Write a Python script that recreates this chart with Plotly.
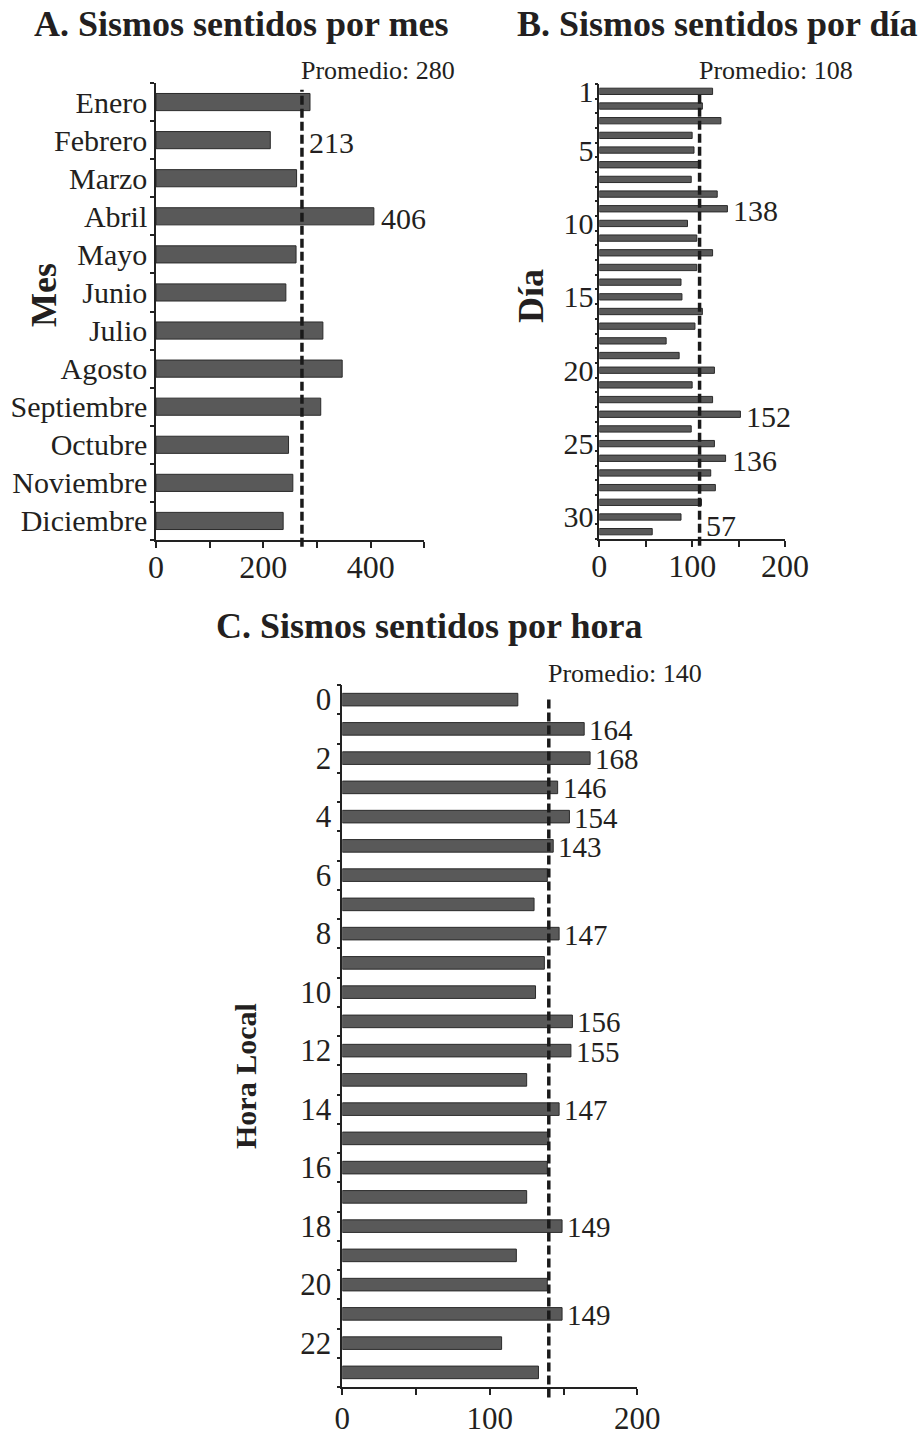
import plotly.graph_objects as go

# ---------------- data ----------------
meses = ["Enero", "Febrero", "Marzo", "Abril", "Mayo", "Junio", "Julio",
         "Agosto", "Septiembre", "Octubre", "Noviembre", "Diciembre"]
sismos_mes = [287, 213, 262, 406, 261, 242, 311, 347, 307, 247, 255, 237]
promedio_mes = 280
linea_mes = 272
etiquetas_mes = {"Febrero": "213", "Abril": "406"}

dias = list(range(1, 32))
sismos_dia = [122, 111, 131, 100, 102, 109, 99, 127, 138, 95, 105, 122, 105,
              88, 89, 111, 103, 72, 86, 124, 100, 122, 152, 99, 124, 136,
              120, 125, 110, 88, 57]
promedio_dia = 108
etiquetas_dia = {9: "138", 23: "152", 26: "136", 31: "57"}
dia_ticks = [1, 5, 10, 15, 20, 25, 30]

horas = list(range(24))
sismos_hora = [119, 164, 168, 146, 154, 143, 139, 130, 147, 137, 131, 156,
               155, 125, 147, 140, 139, 125, 149, 118, 139, 149, 108, 133]
promedio_hora = 140
etiquetas_hora = {1: "164", 2: "168", 3: "146", 4: "154", 5: "143", 8: "147",
                  11: "156", 12: "155", 14: "147", 18: "149", 21: "149"}
hora_ticks = list(range(0, 24, 2))

# ---------------- style ----------------
W, H = 924, 1438
FONT = "Liberation Serif"
TXT = "#231f20"
BAR = "#595959"
EDGE = "#2b2b2b"


def px_x(p):
    return p / W


def px_y(p):
    return 1 - p / H


fig = go.Figure()

fig.add_trace(go.Bar(x=sismos_mes, y=list(range(len(meses))), orientation="h",
                     width=0.45, marker=dict(color=BAR, line=dict(color=EDGE, width=1)),
                     xaxis="x", yaxis="y", showlegend=False, hoverinfo="skip"))
fig.add_trace(go.Bar(x=sismos_dia, y=dias, orientation="h",
                     width=0.43, marker=dict(color=BAR, line=dict(color=EDGE, width=1)),
                     xaxis="x2", yaxis="y2", showlegend=False, hoverinfo="skip"))
fig.add_trace(go.Bar(x=sismos_hora, y=horas, orientation="h",
                     width=0.43, marker=dict(color=BAR, line=dict(color=EDGE, width=1)),
                     xaxis="x3", yaxis="y3", showlegend=False, hoverinfo="skip"))

axis_common = dict(showline=True, linecolor="#222", linewidth=1.5, showgrid=False,
                   zeroline=False, tickcolor="#222", automargin=False)

minor_x = lambda d: dict(dtick=d, ticks="outside", ticklen=6, tickwidth=1.5, tickcolor="#222")
minor_y = lambda l: dict(tickmode="linear", tick0=0.5, dtick=1, ticks="outside",
                         ticklen=l, tickwidth=1.5, tickcolor="#222")

fig.update_layout(
    width=W, height=H, autosize=False, margin=dict(l=0, r=0, t=0, b=0, pad=0),
    paper_bgcolor="white", plot_bgcolor="white",
    font=dict(family=FONT, color=TXT),
    xaxis=dict(domain=[px_x(156), px_x(424.3)], range=[0, 500], dtick=200, anchor="y",
               minor=minor_x(100), ticks="outside", ticklen=6, tickwidth=1.5,
               ticklabelstandoff=-8, tickfont=dict(family=FONT, size=32, color=TXT),
               **axis_common),
    yaxis=dict(domain=[px_y(540), px_y(83)], range=[11.5, -0.5], anchor="x",
               tickmode="array", tickvals=list(range(len(meses))), ticktext=meses,
               minor=minor_y(4), ticks="", ticklabelstandoff=1,
               tickfont=dict(family=FONT, size=30, color=TXT), **axis_common),
    xaxis2=dict(domain=[px_x(599.3), px_x(785)], range=[0, 200], dtick=100, anchor="y2",
                minor=minor_x(50), ticks="outside", ticklen=6, tickwidth=1.5,
                ticklabelstandoff=-8, tickfont=dict(family=FONT, size=32, color=TXT),
                **axis_common),
    yaxis2=dict(domain=[px_y(539), px_y(84)], range=[31.5, 0.5], anchor="x2",
                tickmode="array", tickvals=dia_ticks, minor=minor_y(3),
                ticks="", ticklabelstandoff=-2,
                tickfont=dict(family=FONT, size=30, color=TXT), **axis_common),
    xaxis3=dict(domain=[px_x(342.3), px_x(637.3)], range=[0, 200], dtick=100, anchor="y3",
                minor=minor_x(50), ticks="outside", ticklen=6, tickwidth=1.5,
                ticklabelstandoff=-3, tickfont=dict(family=FONT, size=31, color=TXT),
                **axis_common),
    yaxis3=dict(domain=[px_y(1387), px_y(685)], range=[23.5, -0.5], anchor="x3",
                tickmode="array", tickvals=hora_ticks, minor=minor_y(4),
                ticks="", ticklabelstandoff=3,
                tickfont=dict(family=FONT, size=31, color=TXT), **axis_common),
)

# dashed average lines
for xr, yr, val in [("x", "y", linea_mes), ("x2", "y2", promedio_dia), ("x3", "y3", promedio_hora)]:
    fig.add_shape(type="line", xref=xr, yref=yr + " domain", x0=val, x1=val, y0=-0.015, y1=0.985,
                  line=dict(color="#1a1a1a", width=3.5, dash="9px,4px"))

ann = []
# titles
for text, cx, cy in [("A. Sismos sentidos por mes", 241, 24),
                     ("B. Sismos sentidos por día", 717, 24),
                     ("C. Sismos sentidos por hora", 429, 626)]:
    ann.append(dict(text="<b>%s</b>" % text, x=px_x(cx), y=px_y(cy), xref="paper", yref="paper",
                    xanchor="center", yanchor="middle", showarrow=False,
                    font=dict(family=FONT, size=36, color=TXT)))
# axis titles
for text, cx, cy, sz in [("Mes", 44, 295, 36), ("Día", 531, 296, 36), ("Hora Local", 245, 1076, 30)]:
    ann.append(dict(text="<b>%s</b>" % text, x=px_x(cx), y=px_y(cy), xref="paper", yref="paper",
                    xanchor="center", yanchor="middle", textangle=-90, showarrow=False,
                    font=dict(family=FONT, size=sz, color=TXT)))
# promedio labels
for xr, val, prom, cy in [("x", linea_mes, promedio_mes, 70),
                          ("x2", promedio_dia, promedio_dia, 70),
                          ("x3", promedio_hora, promedio_hora, 673)]:
    ann.append(dict(text="Promedio: %d" % prom, x=val, xref=xr, y=px_y(cy), yref="paper",
                    xanchor="left", yanchor="middle", xshift=-3, showarrow=False,
                    font=dict(family=FONT, size=26, color=TXT)))
# value labels
for i, m in enumerate(meses):
    if m in etiquetas_mes:
        v = sismos_mes[i]
        ann.append(dict(text=etiquetas_mes[m], x=max(v, linea_mes), y=i, xref="x", yref="y",
                        xanchor="left", yanchor="middle", xshift=5, yshift=-2, showarrow=False,
                        font=dict(family=FONT, size=30, color=TXT)))
for d, t in etiquetas_dia.items():
    v = sismos_dia[d - 1]
    ann.append(dict(text=t, x=max(v, promedio_dia), y=d, xref="x2", yref="y2",
                    xanchor="left", yanchor="middle", xshift=4,
                    yshift=(6 if v < promedio_dia else -2), showarrow=False,
                    font=dict(family=FONT, size=30, color=TXT)))
for h, t in etiquetas_hora.items():
    v = sismos_hora[h]
    ann.append(dict(text=t, x=v, y=h, xref="x3", yref="y3",
                    xanchor="left", yanchor="middle", xshift=3, yshift=-1, showarrow=False,
                    font=dict(family=FONT, size=29, color=TXT)))

fig.update_layout(annotations=ann)
fig.write_html("out.html",
               config={"displayModeBar": False, "responsive": False},
               post_script="document.body.style.margin='0';document.body.style.overflow='hidden';")
